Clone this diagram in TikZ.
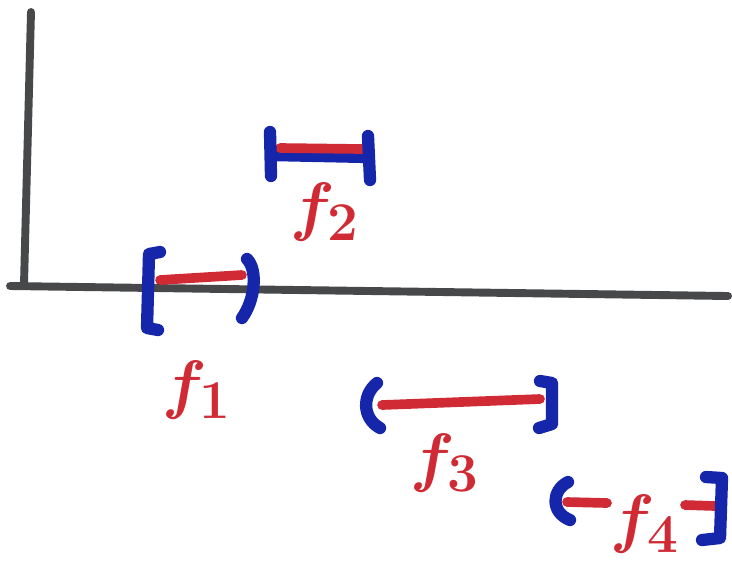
\documentclass[tikz,border=0pt]{standalone}
\usepackage{graphicx}
\usepackage{xcolor}
\usepackage{tikz}
\usetikzlibrary{positioning}

\definecolor{penblue}{RGB}{22,38,170}
\definecolor{penred}{RGB}{208,42,52}
\definecolor{pengray}{RGB}{70,72,74}
\newcommand{\flab}[1]{\scalebox{1.5}{$f_{#1}$}}

\begin{document}
\begin{tikzpicture}[
  x=0.02cm, y=-0.02cm,
  line cap=round, line join=round,
  axis/.style={pengray, line width=4.5pt},
  span/.style={penred, line width=5.5pt},
  ends/.style={penblue, line width=7pt},
  lbl/.style={penred, font=\fontsize{24.88}{26}\selectfont\boldmath, inner sep=0pt}
]
\useasboundingbox (0,0) rectangle (732,586);
% axes
\draw[axis] (31,12) -- (24,284);
\draw[axis] (10,286) -- (728,296);
% f1 : [ )
\draw[span] (160,280) -- (242,275);
\draw[ends] (160,252) -- (149,254) -- (147,328) -- (158,330);
\draw[ends] (247,259) .. controls (258,270) and (255,300) .. (242,318);
\node[lbl] (lab1) at (197,390) {\flab{1}};
% f2 : |--|
\draw[ends] (272,155) -- (368,157);
\draw[span] (280,148) -- (362,149);
\draw[ends] (270,132) -- (271,176);
\draw[ends] (368,136) -- (370,180);
\node[lbl] (lab2) at (325,212) {\flab{2}};
% f3 : ( ]
\draw[span] (382,405) -- (540,399);
\draw[ends] (377,383) .. controls (362,395) and (362,418) .. (380,428);
\draw[ends] (540,381) -- (552,383) -- (552,424) -- (539,428);
\node[lbl] (lab3) at (445,463) {\flab{3}};
% f4 : ( ]
\node[lbl] (lab4) at (645,524) {\flab{4}};
\draw[span] (567,502) -- (607,503);
\draw[span] (685,505) -- (715,506);
\draw[ends] (568,482) .. controls (552,490) and (550,512) .. (570,520);
\draw[ends] (706,477) -- (722,478) -- (720,538) -- (702,540);
\end{tikzpicture}
\end{document}
